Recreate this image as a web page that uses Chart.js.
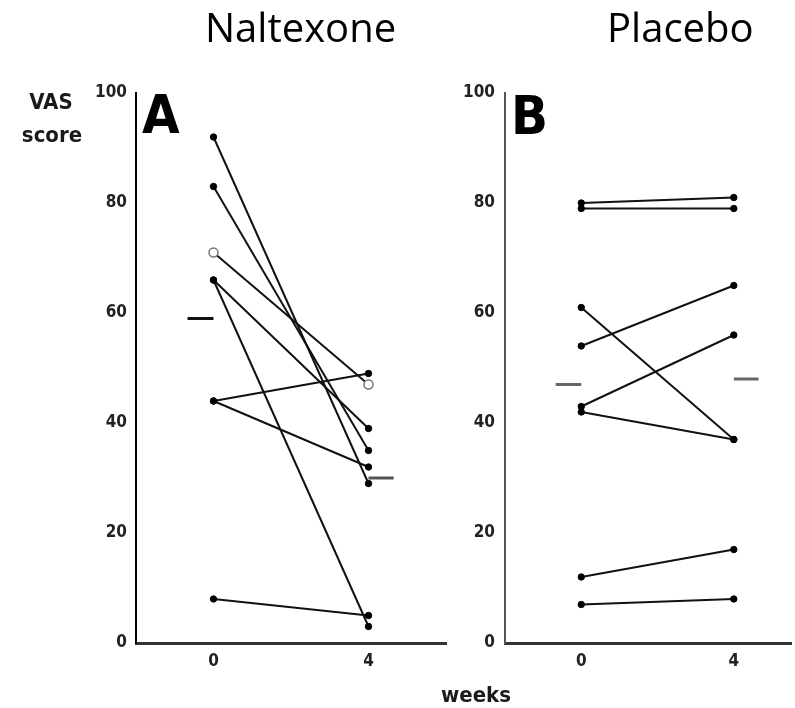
<!DOCTYPE html>
<html>
<head>
<meta charset="utf-8">
<script src="https://cdn.jsdelivr.net/npm/chart.js@4"></script>
<style>
  html, body { margin: 0; padding: 0; background: #fff; overflow: hidden; }
  #page { position: relative; width: 795px; height: 708px; }
  canvas { position: absolute; top: 0; }
  .txt { position: absolute; white-space: nowrap; color: #1a1a1a; }
  .title { font-family: 'Open Sans', sans-serif; font-size: 40px; line-height: 40px; color: #000; }
  .lab { font-family: 'DejaVu Sans Condensed', sans-serif; font-weight: bold; font-size: 22px; line-height: 22px; text-align: center; }
  .panel { font-family: 'DejaVu Sans Condensed', sans-serif; font-weight: bold; font-size: 54px; line-height: 54px; color: #000; }
</style>
</head>
<body>
<div id="page">
  <canvas id="chartA" width="455" height="708" style="left:0"></canvas>
  <canvas id="chartB" width="356" height="708" style="left:440px"></canvas>
  <div class="txt title" style="left:205px; top:7px">Naltexone</div>
  <div class="txt title" style="left:607px; top:7px">Placebo</div>
  <div class="txt lab" style="left:0; width:102px; top:91px">VAS</div>
  <div class="txt lab" style="left:0; width:104px; top:124px">score</div>
  <div class="txt lab" style="left:426px; width:100px; top:684px">weeks</div>
  <div class="txt panel" style="left:142px; top:88px">A</div>
  <div class="txt panel" style="left:511px; top:89px">B</div>
</div>
<script>
// values (VAS score per patient)
const weeks = [0, 4];
const yTicks = [0, 20, 40, 60, 80, 100];

const naltexoneWeek0 = [92, 83, 71, 66, 66, 44, 44, 8];
const naltexoneWeek4 = [29, 35, 47, 39, 3, 49, 32, 5];
const naltexoneOpen = [false, false, true, false, false, false, false, false];
const naltexoneMeans = [59, 30];

const placeboWeek0 = [80, 79, 61, 54, 43, 42, 12, 7];
const placeboWeek4 = [81, 79, 37, 65, 56, 37, 17, 8];
const placeboOpen = [false, false, false, false, false, false, false, false];
const placeboMeans = [47, 48];

const tickFont = { family: "'DejaVu Sans Condensed', sans-serif", weight: 'bold', size: 17 };
const dashBefore = [-0.67, 0];
const dashAfter = [4, 4.65];

function patientSets(w0, w4, open) {
    return w0.map((v, i) => ({
        data: [{ x: weeks[0], y: v }, { x: weeks[1], y: w4[i] }],
        showLine: true,
        borderColor: '#111',
        borderWidth: 2,
        pointRadius: open[i] ? 4.5 : 3.2,
        pointBackgroundColor: open[i] ? '#fff' : '#000',
        pointBorderColor: open[i] ? '#777' : '#000',
        pointBorderWidth: open[i] ? 1.5 : 1,
        order: open[i] ? -1 : 0,
    }));
}

function meanSets(means, colors) {
    return [
        { data: dashBefore.map(x => ({ x: x, y: means[0] })), borderColor: colors[0] },
        { data: dashAfter.map(x => ({ x: x, y: means[1] })), borderColor: colors[1] },
    ].map(d => Object.assign(d, { showLine: true, borderWidth: 3, pointRadius: 0 }));
}

function makeChart(id, w0, w4, open, means, opts) {
    return new Chart(document.getElementById(id), {
        type: 'scatter',
        data: {
            datasets: patientSets(w0, w4, open).concat(meanSets(means, opts.meanColors))
        },
        options: {
            responsive: false,
            animation: false,
            clip: false,
            layout: { padding: { top: 93, right: opts.padRight, bottom: 35, left: 0 } },
            plugins: { legend: { display: false }, tooltip: { enabled: false } },
            scales: {
                x: {
                    type: 'linear',
                    min: -2,
                    max: opts.xMax,
                    afterBuildTicks: s => { s.ticks = weeks.map(v => ({ value: v })); },
                    afterFit: s => { s.height = 30; },
                    ticks: { font: tickFont, color: '#222', padding: 8, callback: v => String(v) },
                    grid: { display: false, drawTicks: false },
                    border: { color: '#333', width: 3 }
                },
                y: {
                    min: 0,
                    max: 100,
                    afterBuildTicks: s => { s.ticks = yTicks.map(v => ({ value: v })); },
                    afterFit: s => { s.width = opts.yWidth; },
                    ticks: { font: tickFont, color: '#222', padding: opts.tickPad },
                    grid: { display: false, drawTicks: false },
                    border: { color: opts.yAxisColor, width: 2 }
                }
            }
        }
    });
}

makeChart('chartA', naltexoneWeek0, naltexoneWeek4, naltexoneOpen, naltexoneMeans,
    { xMax: 6, padRight: 9, yWidth: 136, tickPad: 9, yAxisColor: '#000', meanColors: ['#111', '#555'] });

makeChart('chartB', placeboWeek0, placeboWeek4, placeboOpen, placeboMeans,
    { xMax: 5.5, padRight: 0, yWidth: 65, tickPad: 10, yAxisColor: '#555', meanColors: ['#666', '#666'] });
</script>
</body>
</html>
